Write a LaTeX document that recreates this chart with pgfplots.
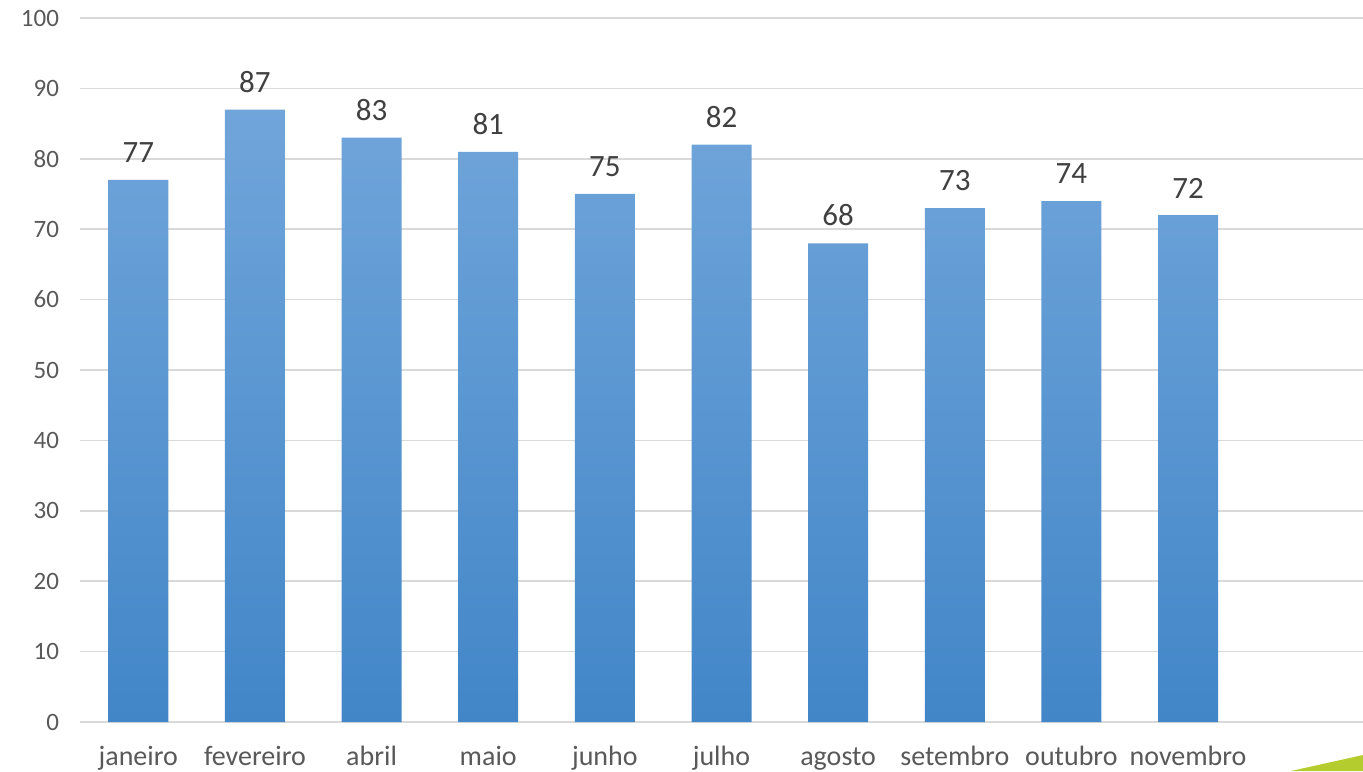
\documentclass[border=0pt]{standalone}
\usepackage{fontspec}
\setmainfont{Carlito}
\usepackage{pgfplots}
\pgfplotsset{compat=1.18}
\definecolor{gridc}{HTML}{D9D9D9}
\definecolor{tickc}{HTML}{595959}
\definecolor{labc}{HTML}{404040}
\definecolor{bartop}{HTML}{70A5DA}
\definecolor{barbot}{HTML}{4286C8}
\definecolor{lime}{HTML}{B5CC2E}
\begin{document}
\begin{tikzpicture}
\begin{axis}[
  name=ax,
  scale only axis,
  width=641.5pt, height=352pt,
  xmin=-0.5, xmax=10.5,
  ymin=0, ymax=100,
  ytick={0,10,...,100},
  xtick={0,...,9},
  xticklabels={janeiro,fevereiro,abril,maio,junho,julho,agosto,setembro,outubro,novembro},
  ymajorgrids, grid style={gridc, line width=0.8pt},
  axis line style={draw=none},
  major tick length=0pt,
  tick label style={text=tickc},
  yticklabel style={font=\fontsize{12.5}{14}\selectfont, xshift=-7pt},
  xticklabel style={font=\fontsize{14}{16}\selectfont, anchor=base, yshift=-21.5pt},
  /pgf/number format/assume math mode=true,
  clip=false,
]
\addplot[ybar, bar width=30pt, draw=none, top color=bartop, bottom color=barbot,
  nodes near coords,
  every node near coord/.append style={font=\fontsize{15.5}{18}\selectfont, text=labc, yshift=5pt}]
  coordinates {(0,77) (1,87) (2,83) (3,81) (4,75) (5,82) (6,68) (7,73) (8,74) (9,72)};
\end{axis}
\pgfresetboundingbox
\path ([xshift=-40pt, yshift=-24.5pt]ax.south west) rectangle ([yshift=9pt]ax.north east);
\fill[lime] ([xshift=-36pt, yshift=-24.5pt]ax.south east) -- ([yshift=-16.5pt]ax.south east) -- ([yshift=-24.5pt]ax.south east) -- cycle;
\end{tikzpicture}
\end{document}
